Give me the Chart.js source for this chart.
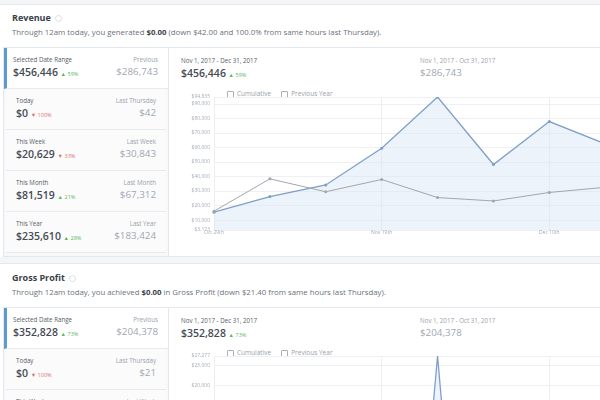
<!DOCTYPE html>
<html lang="en">
<head>
  <meta charset="UTF-8">
  <title>Revenue / Gross Profit</title>
  <script src="https://cdn.jsdelivr.net/npm/chart.js"></script>
  <style>
    body {
      margin: 0;
      width: 600px;
      height: 400px;
      overflow: hidden;
      background: #f4f5f7;
      font-family: "Open Sans", Arial, sans-serif;
      color: #3d4451;
      position: relative;
    }
    .panel {
      position: absolute;
      left: 0;
      width: 640px;
      background: #fff;
      border-top: 1px solid #e6e8eb;
    }
    .title {
      position: absolute;
      left: 12px;
      font-size: 9px;
      font-weight: bold;
      color: #3a3f48;
    }
    .title .info {
      display: inline-block;
      width: 5px;
      height: 5px;
      border-radius: 50%;
      border: 1px solid #dcdfe3;
      margin-left: 4px;
      vertical-align: middle;
    }
    .sub {
      position: absolute;
      left: 12px;
      font-size: 7.8px;
      color: #6b717b;
      white-space: nowrap;
    }
    .sub b { color: #3a3f48; }
    .card {
      position: absolute;
      left: 3px;
      width: 640px;
      border: 1px solid #e4e7eb;
      background: #fff;
      display: flex;
    }
    .side {
      width: 164px;
      border-right: 1px solid #e4e7eb;
      background: #f7f8fa;
    }
    .row {
      height: 41px;
      box-sizing: border-box;
      padding: 8px 10px 0 10px;
      display: flex;
      justify-content: space-between;
      border-bottom: 1px solid #e8eaed;
      background: #fbfbfc;
      margin: 0 2px;
    }
    .row.sel {
      background: #fff;
      border-left: 3px solid #5b9bd1;
      padding-left: 6px;
      margin: 0;
    }
    .lab { font-size: 6.2px; line-height: 7px; color: #555c66; white-space: nowrap; }
    .val { font-size: 10.5px; line-height: 12px; font-weight: 600; color: #454b55; margin-top: 3px; white-space: nowrap; }
    .r { text-align: right; }
    .r .lab { color: #9aa1ab; }
    .r .val { font-weight: normal; color: #a2a8b1; font-size: 9.8px; }
    .up { color: #5cb85c; font-size: 5.5px; font-weight: normal; }
    .down { color: #e0706b; font-size: 5.5px; font-weight: normal; }
    .main {
      position: relative;
      flex: 1;
    }
    .head { position: absolute; top: 9px; }
    .legend {
      position: absolute;
      left: 58px;
      font-size: 6.5px;
      color: #9aa1ab;
      white-space: nowrap;
    }
    .legend span { margin-right: 10px; }
    .legend i {
      display: inline-block;
      width: 5px;
      height: 5px;
      border: 1px solid #aab0b8;
      border-radius: 1px;
      vertical-align: middle;
      margin-right: 3px;
    }
    .chartbox {
      position: absolute;
      left: 8px;
      width: 552px;
    }
  </style>
</head>
<body>
  <!-- Revenue -->
  <div class="panel" style="top:4px;height:252px;">
    <div class="title" style="top:6px;">Revenue<span class="info"></span></div>
    <div class="sub" style="top:22px;">Through 12am today, you generated <b>$0.00</b> (down $42.00 and 100.0% from same hours last Thursday).</div>
    <div class="card" style="top:42px;height:208px;">
      <div class="side">
        <div class="row sel">
          <div><div class="lab">Selected Date Range</div><div class="val">$456,446 <span class="up">&#9650; 59%</span></div></div>
          <div class="r"><div class="lab">Previous</div><div class="val">$286,743</div></div>
        </div>
        <div class="row">
          <div><div class="lab">Today</div><div class="val">$0 <span class="down">&#9660; 100%</span></div></div>
          <div class="r"><div class="lab">Last Thursday</div><div class="val">$42</div></div>
        </div>
        <div class="row">
          <div><div class="lab">This Week</div><div class="val">$20,629 <span class="down">&#9660; 33%</span></div></div>
          <div class="r"><div class="lab">Last Week</div><div class="val">$30,843</div></div>
        </div>
        <div class="row">
          <div><div class="lab">This Month</div><div class="val">$81,519 <span class="up">&#9650; 21%</span></div></div>
          <div class="r"><div class="lab">Last Month</div><div class="val">$67,312</div></div>
        </div>
        <div class="row">
          <div><div class="lab">This Year</div><div class="val">$235,610 <span class="up">&#9650; 28%</span></div></div>
          <div class="r"><div class="lab">Last Year</div><div class="val">$183,424</div></div>
        </div>
      </div>
      <div class="main">
        <div class="head" style="left:12px;"><div class="lab">Nov 1, 2017 - Dec 31, 2017</div><div class="val">$456,446 <span class="up">&#9650; 59%</span></div></div>
        <div class="head r" style="left:251px;text-align:left;"><div class="lab">Nov 1, 2017 - Oct 31, 2017</div><div class="val">$286,743</div></div>
        <div class="legend" style="top:41px;"><span><i></i>Cumulative</span><span><i></i>Previous Year</span></div>
        <div class="chartbox" style="top:42px;height:147px;"><canvas id="revChart"></canvas></div>
      </div>
    </div>
  </div>

  <!-- Gross Profit -->
  <div class="panel" style="top:263px;height:160px;">
    <div class="title" style="top:7px;">Gross Profit<span class="info"></span></div>
    <div class="sub" style="top:23px;">Through 12am today, you achieved <b>$0.00</b> in Gross Profit (down $21.40 from same hours last Thursday).</div>
    <div class="card" style="top:43px;height:208px;">
      <div class="side">
        <div class="row sel">
          <div><div class="lab">Selected Date Range</div><div class="val">$352,828 <span class="up">&#9650; 73%</span></div></div>
          <div class="r"><div class="lab">Previous</div><div class="val">$204,378</div></div>
        </div>
        <div class="row">
          <div><div class="lab">Today</div><div class="val">$0 <span class="down">&#9660; 100%</span></div></div>
          <div class="r"><div class="lab">Last Thursday</div><div class="val">$21</div></div>
        </div>
        <div class="row">
          <div><div class="lab">This Week</div><div class="val">$15,420 <span class="down">&#9660; 30%</span></div></div>
          <div class="r"><div class="lab">Last Week</div><div class="val">$22,031</div></div>
        </div>
      </div>
      <div class="main">
        <div class="head" style="left:12px;"><div class="lab">Nov 1, 2017 - Dec 31, 2017</div><div class="val">$352,828 <span class="up">&#9650; 73%</span></div></div>
        <div class="head r" style="left:251px;text-align:left;"><div class="lab">Nov 1, 2017 - Oct 31, 2017</div><div class="val">$204,378</div></div>
        <div class="legend" style="top:40px;"><span><i></i>Cumulative</span><span><i></i>Previous Year</span></div>
        <div class="chartbox" style="top:41px;height:125px;"><canvas id="gpChart"></canvas></div>
      </div>
    </div>
  </div>

  <script>
    // Revenue, weekly
    const revLabels = ["Oct 29th", "Nov 5th", "Nov 12th", "Nov 19th", "Nov 26th", "Dec 3rd", "Dec 10th", "Dec 17th", "Dec 24th", "Dec 31st"];
    const revCurrent = [15440, 26230, 34190, 59570, 94835, 48290, 77900, 62500, 34700, 3173];
    const revPrevious = [16140, 38420, 29540, 38000, 25520, 23190, 29040, 32600, 30200, 24100];
    const revMin = 3173;
    const revMax = 94835;
    const revStep = 10000;

    // Gross profit, daily (Oct 29 - Dec 31)
    const gpLabels = [
      "Oct 29th", "Oct 30th", "Oct 31st", "Nov 1st", "Nov 2nd", "Nov 3rd", "Nov 4th",
      "Nov 5th", "Nov 6th", "Nov 7th", "Nov 8th", "Nov 9th", "Nov 10th", "Nov 11th",
      "Nov 12th", "Nov 13th", "Nov 14th", "Nov 15th", "Nov 16th", "Nov 17th", "Nov 18th",
      "Nov 19th", "Nov 20th", "Nov 21st", "Nov 22nd", "Nov 23rd", "Nov 24th", "Nov 25th",
      "Nov 26th", "Nov 27th", "Nov 28th", "Nov 29th", "Nov 30th", "Dec 1st", "Dec 2nd",
      "Dec 3rd", "Dec 4th", "Dec 5th", "Dec 6th", "Dec 7th", "Dec 8th", "Dec 9th",
      "Dec 10th", "Dec 11th", "Dec 12th", "Dec 13th", "Dec 14th", "Dec 15th", "Dec 16th",
      "Dec 17th", "Dec 18th", "Dec 19th", "Dec 20th", "Dec 21st", "Dec 22nd", "Dec 23rd",
      "Dec 24th", "Dec 25th", "Dec 26th", "Dec 27th", "Dec 28th", "Dec 29th", "Dec 30th", "Dec 31st"
    ];
    const gpCurrent = [
      2100, 3400, 4200, 3900, 4600, 5100, 2800,
      3000, 5200, 5800, 6100, 4900, 5400, 3300,
      3600, 6200, 6900, 5700, 6400, 7100, 4200,
      4500, 7300, 8100, 7600, 6800, 7900, 5200,
      27277, 4800, 8600, 9200, 8800, 9400, 6100,
      5600, 8900, 9700, 9100, 8400, 9900, 6600,
      6200, 9400, 10200, 9600, 9800, 10400, 7100,
      6700, 9100, 9900, 8700, 8200, 7400, 4300,
      3900, 5200, 4800, 5600, 4100, 3700, 2600, 1900
    ];
    const gpPrevious = [
      2400, 2900, 3300, 3100, 3500, 3700, 2500,
      2600, 3400, 3600, 3900, 3500, 3800, 2700,
      2800, 3700, 4100, 3900, 4200, 4400, 3000,
      3100, 4300, 4600, 4200, 3400, 4800, 3300,
      3200, 4100, 4500, 4700, 4400, 4900, 3400,
      3300, 4600, 4900, 4700, 4500, 5100, 3600,
      3500, 4800, 5200, 5000, 5300, 5500, 3800,
      3700, 4900, 5100, 4600, 4200, 3600, 2700,
      2300, 2900, 3400, 3600, 3200, 2800, 2200, 1700
    ];
    const gpTickLabels = { 0: "Oct 29th", 21: "Nov 19th", 42: "Dec 10th", 63: "Dec 31st" };
    const gpMin = 0;
    const gpMax = 27277;
    const gpStep = 5000;

    const money = (v) => "$" + Math.round(v).toLocaleString("en-US");

    function makeChart(id, labels, current, previous, min, max, step, showTick) {
      return new Chart(document.getElementById(id), {
        type: "line",
        data: {
          labels: labels,
          datasets: [
            {
              label: "Current",
              data: current,
              borderColor: "#7f9fc8",
              backgroundColor: "rgba(214, 228, 244, 0.45)",
              borderWidth: 1.3,
              fill: "origin",
              tension: 0,
              pointRadius: labels.length > 20 ? 0 : 1.5,
              pointBackgroundColor: "#7f9fc8",
              pointBorderWidth: 0,
              order: 2,
            },
            {
              label: "Previous",
              data: previous,
              borderColor: "#a3a6ab",
              borderWidth: 1,
              fill: false,
              tension: 0,
              pointRadius: labels.length > 20 ? 0 : 1.5,
              pointBackgroundColor: "#a3a6ab",
              pointBorderWidth: 0,
              order: 1,
            },
          ],
        },
        options: {
          responsive: true,
          maintainAspectRatio: false,
          animation: false,
          layout: { padding: { top: 2, right: 12, left: 0, bottom: 0 } },
          plugins: { legend: { display: false }, tooltip: { enabled: false } },
          scales: {
            x: {
              grid: {
                color: (ctx) => (showTick(ctx.index) ? "#eceef1" : "rgba(0,0,0,0)"),
                drawTicks: false,
              },
              border: { display: false },
              ticks: {
                autoSkip: false,
                maxRotation: 0,
                padding: 0,
                color: "#a7adb5",
                font: { size: 5, family: "Open Sans" },
                callback: (val, i) => (showTick(i) ? labels[i] : ""),
              },
            },
            y: {
              min: min,
              max: max,
              afterBuildTicks: (scale) => {
                const t = [{ value: min }];
                for (let v = Math.ceil((min + 1) / step) * step; v < max - 1; v += step) t.push({ value: v });
                t.push({ value: max });
                scale.ticks = t;
              },
              afterFit: (scale) => { scale.width = 37; },
              grid: { color: "#eef0f3", drawTicks: false },
              border: { display: false },
              ticks: {
                autoSkip: false,
                padding: 4,
                color: "#a7adb5",
                font: { size: 5, family: "Open Sans" },
                callback: (v) => money(v),
              },
            },
          },
        },
      });
    }

    makeChart("revChart", revLabels, revCurrent, revPrevious, revMin, revMax, revStep, (i) => i % 3 === 0);
    makeChart("gpChart", gpLabels, gpCurrent, gpPrevious, gpMin, gpMax, gpStep, (i) => i in gpTickLabels);
  </script>
</body>
</html>
